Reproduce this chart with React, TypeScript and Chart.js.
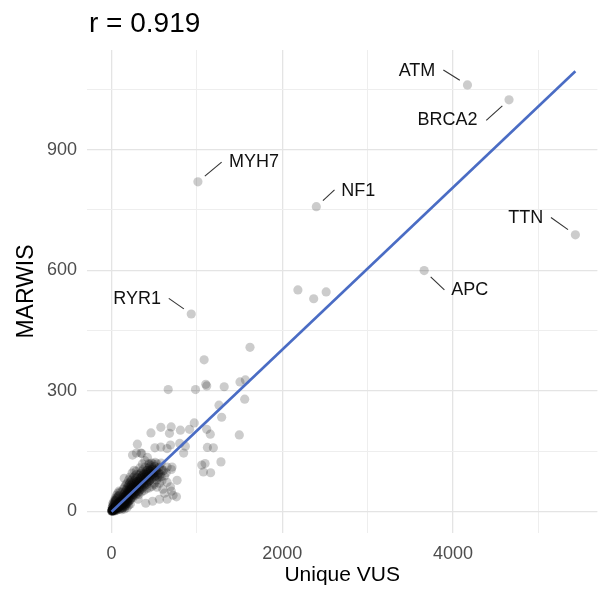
import { useEffect, useRef } from "react";
import { Chart, registerables } from "chart.js";

Chart.register(...registerables);

const FONT = '"Liberation Sans", Arial, Helvetica, sans-serif';

const titleText = "r = 0.919";
const xAxisTitle = "Unique VUS";
const yAxisTitle = "MARWIS";

const xTickValues = [0, 1000, 2000, 3000, 4000, 5000];
const xTickLabels = ["0", "", "2000", "", "4000", ""];
const yTickValues = [0, 150, 300, 450, 600, 750, 900, 1050];
const yTickLabels = ["0", "", "300", "", "600", "", "900", ""];

// labelled genes
const geneNames = ["ATM", "BRCA2", "TTN", "APC", "MYH7", "NF1", "RYR1"];
const geneX = [4168, 4655, 5432, 3661, 1011, 2398, 933];
const geneY = [1061, 1024, 688, 599, 820, 758, 491];
const labelX = [3577, 3933, 4850, 4194, 1667, 2889, 299];
const labelY = [1095, 973, 731, 551, 869, 798, 529];
const segStartX = [3886, 4388, 5146, 3898, 1289, 2611, 670];
const segStartY = [1098, 973, 731, 551, 869, 800, 530];

// unlabelled genes with larger counts
const midPoints: [number, number][] = [
  [2182, 551], [2367, 529], [2513, 546],
  [1621, 408], [1084, 377], [663, 303], [983, 303], [1103, 316], [1114, 312],
  [1319, 310], [1504, 322], [1567, 327], [1559, 279], [1258, 264], [1289, 234],
  [1496, 190], [968, 220], [913, 204], [806, 202], [698, 210], [577, 209],
  [461, 195], [678, 194], [1114, 204], [1156, 192], [302, 167], [507, 158],
  [577, 160], [690, 165], [798, 169], [864, 162], [1122, 159], [1192, 158],
  [245, 140], [342, 145], [844, 145], [1056, 115], [1095, 119], [1281, 123],
  [1076, 98], [1160, 96], [291, 145], [353, 144], [650, 156], [438, 119],
  [612, 102], [708, 110],
];

// dense cluster near the origin
const clusterPoints: [number, number][] = [
  [1, 0], [2, 1], [3, 2], [4, 1], [5, 3], [6, 2], [7, 1], [8, 4], [9, 2], [10, 3],
  [11, 5], [12, 1], [13, 4], [14, 2], [15, 6], [16, 3], [17, 5], [18, 2], [19, 7], [20, 4],
  [21, 6], [22, 3], [24, 8], [25, 5], [26, 2], [28, 7], [30, 9], [31, 4], [33, 6], [35, 10],
  [36, 3], [38, 8], [40, 12], [41, 5], [43, 9], [45, 7], [47, 13], [48, 4], [50, 10], [52, 15],
  [54, 8], [55, 12], [57, 6], [59, 14], [60, 17], [62, 9], [64, 12], [66, 19], [68, 7], [70, 15],
  [72, 11], [74, 20], [76, 13], [78, 9], [80, 17], [82, 22], [84, 14], [86, 10], [88, 19], [90, 24],
  [92, 15], [94, 12], [96, 21], [98, 17], [100, 26], [102, 13], [104, 20], [106, 28], [108, 16], [110, 23],
  [5, 8], [10, 10], [15, 12], [20, 14], [25, 16], [30, 18], [35, 20], [40, 24], [45, 26], [50, 28],
  [55, 30], [60, 33], [70, 36], [80, 38], [90, 40], [12, 18], [22, 22], [32, 27], [44, 33], [58, 40],
  [72, 45], [86, 50], [100, 48],
  [20, 0], [35, 1], [50, 2], [65, 3], [80, 5], [95, 6], [110, 8], [125, 9], [140, 10], [160, 12],
  [120, 4], [150, 6], [180, 9], [200, 15], [220, 18], [170, 20], [190, 24],
  [115, 22], [118, 30], [120, 14], [125, 26], [128, 35], [132, 18], [135, 28], [138, 40], [142, 22], [145, 32],
  [148, 44], [152, 26], [155, 36], [158, 48], [162, 30], [165, 40], [168, 52], [172, 34], [175, 44], [178, 56],
  [182, 38], [185, 48], [188, 60], [192, 42], [195, 52], [198, 64], [202, 46], [205, 56], [208, 68], [212, 50],
  [215, 60], [218, 72], [222, 54], [225, 64], [228, 76], [232, 58], [235, 68], [240, 80], [245, 62], [250, 72],
  [255, 84], [260, 66], [265, 76], [270, 88], [275, 70], [280, 80], [285, 60], [290, 92], [295, 74], [300, 84],
  [120, 48], [135, 55], [150, 60], [165, 66], [180, 70], [200, 78], [215, 85], [240, 95], [130, 8], [160, 14],
  [190, 20], [220, 28], [250, 34], [280, 40], [300, 50], [260, 45], [310, 30], [230, 40], [200, 32], [175, 25],
  [310, 66], [318, 90], [325, 76], [332, 58], [340, 84], [348, 98], [355, 70], [362, 88], [370, 104], [378, 74],
  [385, 92], [392, 110], [400, 80], [408, 96], [415, 68], [422, 102], [430, 86], [438, 116], [445, 76], [452, 100],
  [460, 90], [468, 120], [475, 82], [482, 108], [490, 95], [498, 70], [505, 112], [512, 88], [520, 104], [528, 78],
  [535, 118], [542, 92], [550, 108], [558, 84],
  [320, 42], [350, 48], [380, 52], [410, 56], [440, 58], [470, 62], [500, 66], [530, 60], [560, 70], [590, 76],
  [620, 88], [650, 72], [690, 61], [767, 77], [600, 100], [640, 96], [700, 104], [580, 120], [330, 108], [360, 118],
  [390, 126], [420, 134], [264, 102], [148, 82], [340, 94], [290, 100], [600, 55], [650, 110],
  [105, 15], [108, 25], [112, 19], [116, 12], [119, 27], [123, 21], [127, 16], [131, 31], [134, 24], [137, 13],
  [141, 29], [144, 20], [147, 36], [151, 17], [154, 28], [157, 22], [161, 38], [164, 25], [167, 18], [171, 32],
  [174, 41], [177, 27], [181, 21], [184, 36], [187, 45], [191, 30], [194, 24], [197, 40], [201, 34], [204, 49],
  [207, 27], [211, 43], [214, 37], [217, 30], [221, 47], [224, 40], [227, 56], [231, 33], [234, 50], [237, 44],
  [241, 36], [244, 53], [247, 47], [251, 60], [254, 40], [257, 56], [261, 50], [264, 42], [268, 62], [271, 54],
  [274, 46], [278, 66], [281, 57], [284, 49], [288, 70], [291, 61], [294, 52], [298, 68], [301, 44], [305, 64],
  [308, 74], [312, 56], [315, 70], [318, 48], [322, 78], [325, 62], [328, 52], [332, 72], [335, 82], [338, 66],
  [342, 55], [345, 76], [348, 86], [352, 62], [355, 80], [358, 70], [362, 58], [365, 90], [368, 76], [372, 66],
  [375, 84], [378, 94], [382, 62], [385, 78], [388, 88], [392, 70], [395, 98], [398, 82], [402, 66], [405, 92],
  [408, 76], [412, 102], [415, 86], [418, 72], [422, 96], [425, 80], [428, 106], [432, 90], [435, 74], [438, 100],
  [442, 84], [445, 110], [448, 94], [452, 78], [455, 104], [460, 88], [465, 114], [470, 98], [475, 84], [480, 104],
  [485, 92], [490, 118], [495, 100], [500, 86], [505, 96], [510, 122], [515, 102], [520, 90], [530, 100], [540, 86],
  [550, 96], [560, 110], [570, 92], [580, 86], [590, 104],
  [650, 30], [720, 40], [760, 36], [560, 30], [480, 25], [400, 20], [700, 50], [620, 45],
];

// fitted line endpoints
const trendX = [0, 5432];
const trendY = [-1, 1095];

const geneLabelPlugin = {
  id: "geneLabels",
  afterDatasetsDraw(chart: any) {
    const { ctx, scales } = chart;
    const xs = scales.x;
    const ys = scales.y;
    ctx.save();
    ctx.font = `18px ${FONT}`;
    ctx.fillStyle = "#111111";
    ctx.strokeStyle = "#333333";
    ctx.lineWidth = 1.1;
    ctx.textAlign = "center";
    ctx.textBaseline = "middle";
    geneNames.forEach((name, i) => {
      const px = xs.getPixelForValue(geneX[i]);
      const py = ys.getPixelForValue(geneY[i]);
      const sx = xs.getPixelForValue(segStartX[i]);
      const sy = ys.getPixelForValue(segStartY[i]);
      const dx = px - sx;
      const dy = py - sy;
      const len = Math.hypot(dx, dy);
      const ex = px - (dx / len) * 9;
      const ey = py - (dy / len) * 9;
      ctx.beginPath();
      ctx.moveTo(sx, sy);
      ctx.lineTo(ex, ey);
      ctx.stroke();
      ctx.fillText(name, xs.getPixelForValue(labelX[i]), ys.getPixelForValue(labelY[i]));
    });
    ctx.restore();
  },
};

const titlePlugin = {
  id: "plotTitle",
  afterDraw(chart: any) {
    const { ctx } = chart;
    ctx.save();
    ctx.font = `28px ${FONT}`;
    ctx.fillStyle = "#000000";
    ctx.textAlign = "left";
    ctx.textBaseline = "alphabetic";
    ctx.fillText(titleText, 89, 32);
    ctx.restore();
  },
};

export default function App() {
  const canvasRef = useRef<HTMLCanvasElement | null>(null);

  useEffect(() => {
    if (!canvasRef.current) return;
    const scatterData = [
      ...clusterPoints.map(([x, y]) => ({ x, y })),
      ...midPoints.map(([x, y]) => ({ x, y })),
      ...geneX.map((x, i) => ({ x, y: geneY[i] })),
    ];
    const majorX = (v: number) => xTickLabels[xTickValues.indexOf(v)] !== "";
    const majorY = (v: number) => yTickLabels[yTickValues.indexOf(v)] !== "";
    const chart = new Chart(canvasRef.current, {
      type: "scatter",
      data: {
        datasets: [
          {
            type: "line",
            data: trendX.map((x, i) => ({ x, y: trendY[i] })),
            borderColor: "#4a6cc4",
            borderWidth: 2.6,
            pointRadius: 0,
            fill: false,
            order: 0,
          } as any,
          {
            type: "scatter",
            data: scatterData,
            backgroundColor: "rgba(0,0,0,0.2)",
            borderWidth: 0,
            pointRadius: 4.6,
            order: 1,
          },
        ],
      },
      options: {
        animation: false,
        responsive: true,
        maintainAspectRatio: false,
        layout: { padding: { top: 50, left: 0, right: 0, bottom: 0 } },
        plugins: {
          legend: { display: false },
          tooltip: { enabled: false },
          title: { display: false },
        },
        scales: {
          x: {
            type: "linear",
            min: -288,
            max: 5690,
            border: { display: false },
            afterBuildTicks: (s: any) => {
              s.ticks = xTickValues.map((v) => ({ value: v }));
            },
            grid: {
              drawTicks: false,
              color: (c: any) => (c.tick && majorX(c.tick.value) ? "#e4e4e4" : "#eeeeee"),
              lineWidth: (c: any) => (c.tick && majorX(c.tick.value) ? 1.3 : 1),
            },
            ticks: {
              autoSkip: false,
              maxRotation: 0,
              padding: 10,
              color: "#4d4d4d",
              font: { size: 18, family: FONT },
              callback: (v: any) => xTickLabels[xTickValues.indexOf(Number(v))] ?? "",
            },
            title: {
              display: true,
              text: xAxisTitle,
              color: "#000000",
              font: { size: 21, family: FONT },
              padding: { top: 0, bottom: 2 },
            },
            afterFit: (s: any) => {
              s.height = 57;
            },
          },
          y: {
            type: "linear",
            min: -54,
            max: 1148,
            border: { display: false },
            afterBuildTicks: (s: any) => {
              s.ticks = yTickValues.map((v) => ({ value: v }));
            },
            grid: {
              drawTicks: false,
              color: (c: any) => (c.tick && majorY(c.tick.value) ? "#e4e4e4" : "#eeeeee"),
              lineWidth: (c: any) => (c.tick && majorY(c.tick.value) ? 1.3 : 1),
            },
            ticks: {
              autoSkip: false,
              padding: 10,
              color: "#4d4d4d",
              font: { size: 18, family: FONT },
              callback: (v: any) => yTickLabels[yTickValues.indexOf(Number(v))] ?? "",
            },
            title: {
              display: true,
              text: yAxisTitle,
              color: "#000000",
              font: { size: 23, family: FONT },
              padding: { top: 13, bottom: 0 },
            },
            afterFit: (s: any) => {
              s.width = 87;
            },
          },
        },
      },
      plugins: [geneLabelPlugin, titlePlugin],
    });
    return () => chart.destroy();
  }, []);

  return (
    <div style={{ position: "absolute", left: 0, top: 0, width: 602, height: 590, background: "#ffffff" }}>
      <canvas ref={canvasRef} />
    </div>
  );
}
